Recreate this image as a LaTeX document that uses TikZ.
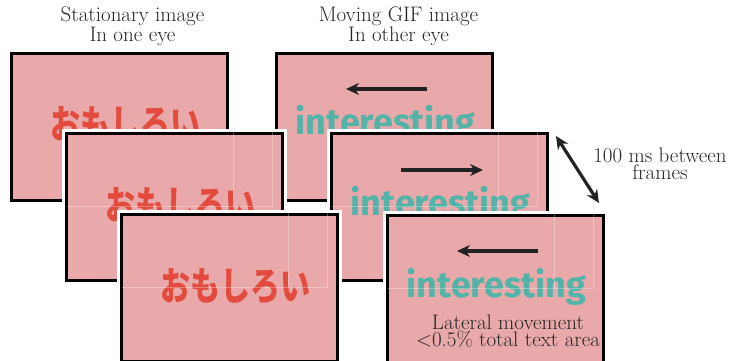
\documentclass[tikz,border=0pt]{standalone}
\usepackage{fontspec}
\usepackage{graphicx}
\newfontfamily\jpfont{Noto Sans CJK JP}
\newfontfamily\wordfont{Fira Sans}
\usetikzlibrary{arrows.meta}
\definecolor{framepink}{HTML}{E9A8A9}
\definecolor{kanared}{HTML}{E24B3D}
\definecolor{wordteal}{HTML}{52B4A9}
\definecolor{arrowink}{HTML}{222222}
\begin{document}
\begin{tikzpicture}[x=1pt,y=-1pt,
  frame/.style={draw=black, line width=3pt, fill=framepink,
    minimum width=216pt, minimum height=147pt, inner sep=0pt, outer sep=0pt},
  haloframe/.style={frame, preaction={draw=white, line width=9pt}},
  seam/.style={draw=white, opacity=0.3, line width=0.7pt},
  kana/.style={text=kanared, inner sep=0pt, anchor=base,
    font=\jpfont\bfseries\fontsize{30}{30}\selectfont},
  word/.style={text=wordteal, inner sep=0pt, anchor=base,
    font=\wordfont\bfseries\fontsize{36}{36}\selectfont},
  caption/.style={align=center, inner sep=0pt, anchor=base, text=black!85,
    font=\fontsize{21}{16.5}\selectfont},
  notecaption/.style={caption, font=\fontsize{21}{17}\selectfont},
  motion/.style={draw=arrowink, line width=3.2pt, -{Stealth[length=13pt,width=12pt]}},
  lapse/.style={draw=arrowink, line width=3.2pt,
    {Stealth[length=13pt,width=12pt]}-{Stealth[length=13pt,width=12pt]}},
]
\useasboundingbox (0,0) rectangle (732,361);
\clip (0,0) rectangle (732,361);

% faint tile seams inside a frame, given by its name
\newcommand\tileseams[1]{%
  \draw[seam] ([shift={(58.5,-75)}]#1.center) -- ([shift={(58.5,-1)}]#1.center);
  \draw[seam] ([shift={(97.5,-75)}]#1.center) -- ([shift={(97.5,-1)}]#1.center)
              -- ([shift={(-108,-1)}]#1.center);
}

% captions above the two columns
\node[caption] (capL) at (132.5,41.5) {Stationary image\\In one eye};
\node[caption] (capR) at (398.5,41.5) {Moving GIF image\\In other eye};

% first frames
\node[frame] (L1) at (119.5,127) {};
\node[kana] (L1t) at ([shift={(6,12)}]L1.center) {\scalebox{1}[1.3]{おもしろい}};
\node[frame] (R1) at (384.5,127) {};
\node[word] (R1t) at ([shift={(1,8)}]R1.center) {interesting};
\coordinate (R1s) at ([shift={(42.5,-38)}]R1.center);
\coordinate (R1e) at ([shift={(-38.5,-38)}]R1.center);
\draw[motion] (R1s) -- (R1e);

% second frames
\node[haloframe] (L2) at (174.5,207) {};
\node[kana] (L2t) at ([shift={(6,12)}]L2.center) {\scalebox{1}[1.3]{おもしろい}};
\tileseams{L2}
\node[haloframe] (R2) at (439.5,207) {};
\node[word] (R2t) at ([shift={(1,8)}]R2.center) {interesting};
\tileseams{R2}
\coordinate (R2s) at ([shift={(-38.5,-37)}]R2.center);
\coordinate (R2e) at ([shift={(43.5,-37)}]R2.center);
\draw[motion] (R2s) -- (R2e);

% third frames
\node[haloframe] (L3) at (229.5,288) {};
\node[kana] (L3t) at ([shift={(6,12)}]L3.center) {\scalebox{1}[1.3]{おもしろい}};
\tileseams{L3}
\node[haloframe] (R3) at (495.5,289) {};
\node[word] (R3t) at ([shift={(1,8)}]R3.center) {interesting};
\tileseams{R3}
\coordinate (R3s) at ([shift={(42.5,-38)}]R3.center);
\coordinate (R3e) at ([shift={(-38.5,-38)}]R3.center);
\draw[motion] (R3s) -- (R3e);
\node[notecaption] (capM) at (508,346) {Lateral movement\\<0.5\% total text area};

% timing between frames
\coordinate (gapA) at (556,136);
\coordinate (gapB) at (599,203);
\draw[lapse] (gapA) -- (gapB);
\node[notecaption] (capT) at (660,179) {100 ms between\\frames};
\end{tikzpicture}
\end{document}
